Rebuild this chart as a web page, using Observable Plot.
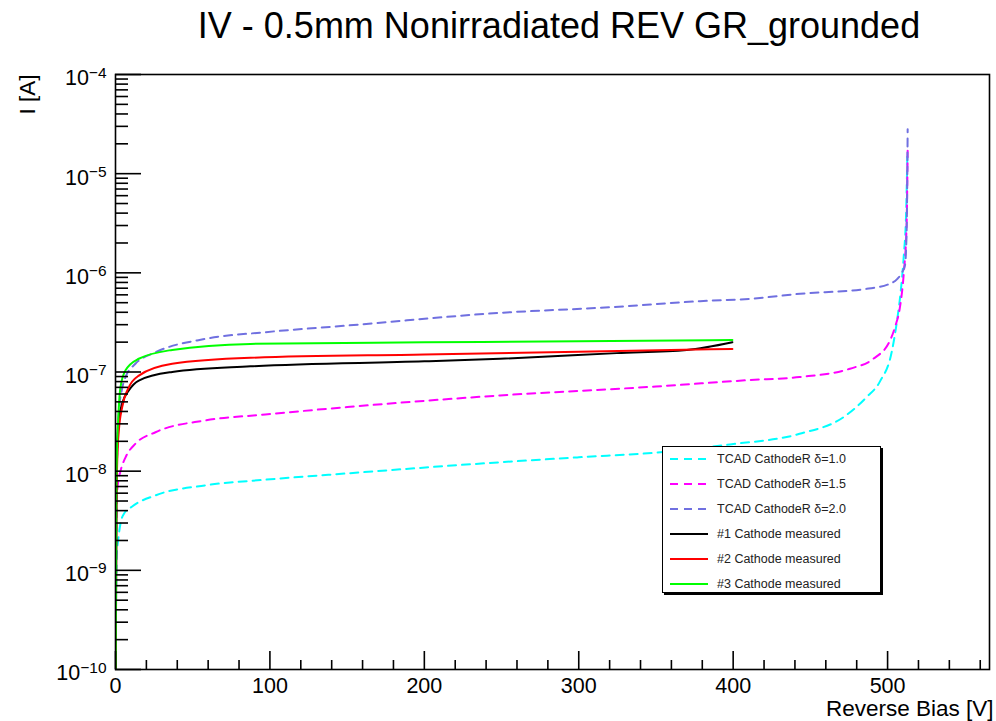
<!DOCTYPE html>
<html>
<head>
<meta charset="utf-8">
<script src="https://cdn.jsdelivr.net/npm/d3@7"></script>
<script src="https://cdn.jsdelivr.net/npm/@observablehq/plot@0.6"></script>
<style>
  body { margin: 0; background: #fff; font-family: "Liberation Sans", Arial, sans-serif; }
  #wrap { position: relative; width: 996px; height: 721px; overflow: hidden; background: #fff; }
  #title { height: 60px; box-sizing: border-box; padding-left: 122px; text-align: center;
           font-size: 36px; line-height: 52px; color: #000; white-space: nowrap; }
  #legend { position: absolute; left: 662px; top: 446px; width: 219px; height: 147px; box-sizing: border-box;
            border: 1.5px solid #000; box-shadow: 2px 2px 0 #000; background: #fff; font-size: 12.5px; color: #222; }
  .row { position: absolute; left: 7px; height: 20px; display: flex; align-items: center; white-space: nowrap; }
  .row svg { margin-right: 9px; }
</style>
</head>
<body>
<div id="wrap">
  <div id="title">IV - 0.5mm Nonirradiated REV GR_grounded</div>
  <div id="chart"></div>
  <div id="legend"></div>
</div>
<script>
// Reverse bias [V] and current [A] for each curve
const tcad10V = [0.1, 0.3, 0.9, 1.7, 3.2, 5.4, 10.8, 25.9, 58.3, 97, 150, 249, 300, 354.7, 398, 443, 471.4, 486.5, 495, 502.7, 506, 508.5, 510.5, 512, 512.8];
const tcad10I = [5e-11, 4e-10, 1.48e-9, 2.0e-9, 2.95e-9, 3.7e-9, 4.4e-9, 5.7e-9, 7.2e-9, 8.2e-9, 9.5e-9, 1.23e-8, 1.38e-8, 1.56e-8, 1.86e-8, 2.38e-8, 3.5e-8, 5.6e-8, 8e-8, 1.6e-7, 3.2e-7, 6.5e-7, 1.5e-6, 4e-6, 1.5e-5];

const tcad15V = [0.1, 0.5, 1.2, 2, 3.2, 6.5, 12.9, 25.9, 58.3, 97, 150, 249, 350, 411, 443, 475.7, 490.8, 501.6, 505, 508, 510.5, 512.3, 513];
const tcad15I = [5e-11, 2.5e-9, 6.5e-9, 8.2e-9, 1.0e-8, 1.38e-8, 1.89e-8, 2.47e-8, 3.25e-8, 3.73e-8, 4.43e-8, 5.8e-8, 7.14e-8, 8.3e-8, 8.9e-8, 1.08e-7, 1.36e-7, 2.08e-7, 2.9e-7, 4.5e-7, 1.0e-6, 3e-6, 1.7e-5];

const tcad20V = [0.1, 0.6, 1.2, 2.5, 4, 6.5, 12.9, 25.9, 58.3, 97, 150, 249, 320, 378.6, 411, 443.4, 486.5, 500, 506, 509.2, 511.3, 512.4, 513.0];
const tcad20I = [5e-11, 5e-9, 1.8e-8, 4.5e-8, 6.5e-8, 8.9e-8, 1.21e-7, 1.58e-7, 2.16e-7, 2.52e-7, 2.94e-7, 3.95e-7, 4.5e-7, 5.18e-7, 5.47e-7, 6.15e-7, 6.9e-7, 7.6e-7, 8.6e-7, 1.0e-6, 1.2e-6, 3e-6, 2.8e-5];

const meas1V = [0.1, 0.6, 1.2, 2.2, 4.3, 8.6, 15.1, 36.7, 87.4, 200, 249, 324.7, 370, 399.5];
const meas1I = [5e-11, 5e-9, 1.8e-8, 3.2e-8, 4.8e-8, 6.5e-8, 8.2e-8, 1.0e-7, 1.14e-7, 1.28e-7, 1.36e-7, 1.55e-7, 1.67e-7, 2.0e-7];

const meas2V = [0.1, 0.6, 1.2, 2.2, 4.3, 8.6, 15.1, 36.7, 87.4, 200, 300, 399.5];
const meas2I = [5e-11, 4e-9, 1.4e-8, 2.6e-8, 4.4e-8, 7.0e-8, 9.2e-8, 1.21e-7, 1.39e-7, 1.50e-7, 1.60e-7, 1.71e-7];

const meas3V = [0.1, 0.5, 0.9, 1.7, 3.2, 6.5, 15.1, 36.7, 87.4, 200, 300, 399.5];
const meas3I = [5e-11, 5e-9, 1.5e-8, 3.2e-8, 7.0e-8, 1.04e-7, 1.36e-7, 1.67e-7, 1.92e-7, 1.99e-7, 2.04e-7, 2.1e-7];

const seriesNames = ["TCAD CathodeR \u03b4=1.0", "TCAD CathodeR \u03b4=1.5", "TCAD CathodeR \u03b4=2.0",
                     "#1 Cathode measured", "#2 Cathode measured", "#3 Cathode measured"];
const seriesColors = ["#00ffff", "#ff00ff", "#7070e0", "#000000", "#ff0000", "#00ff00"];
const seriesDashed = [true, true, true, false, false, false];

// Axis ticks
const xMajorTicks = [0, 100, 200, 300, 400, 500];
const xMinorTicks = [20, 40, 60, 80, 120, 140, 160, 180, 220, 240, 260, 280, 320, 340, 360, 380, 420, 440, 460, 480, 520, 540, 560];
const yMajorTicks = [1e-10, 1e-9, 1e-8, 1e-7, 1e-6, 1e-5, 1e-4];
const yMinorFactors = [2, 3, 4, 5, 6, 7, 8, 9];

const yMinorTicks = yMajorTicks.slice(0, -1).flatMap(d => yMinorFactors.map(f => f * d));
const toRows = (vs, is) => vs.map((v, k) => ({v, i: is[k]}));
const seriesData = [
  toRows(tcad10V, tcad10I), toRows(tcad15V, tcad15I), toRows(tcad20V, tcad20I),
  toRows(meas1V, meas1I), toRows(meas2V, meas2I), toRows(meas3V, meas3I)
];

const W = 996, H = 661, mL = 115, mR = 7, mT = 14, mB = 52;
const innerW = W - mL - mR, innerH = H - mT - mB;

const curveMarks = seriesData.map((data, k) => Plot.line(data, {
  x: "v", y: "i", stroke: seriesColors[k], strokeWidth: 2,
  strokeDasharray: seriesDashed[k] ? "8,6" : null,
  curve: "monotone-x", clip: true
}));

const chart = Plot.plot({
  width: W, height: H,
  marginLeft: mL, marginRight: mR, marginTop: mT, marginBottom: mB,
  style: {fontFamily: '"Liberation Sans", Arial, sans-serif', fontSize: "21.5px", color: "#000", background: "#fff", overflow: "visible"},
  x: {domain: [0, 566], label: null},
  y: {type: "log", domain: [1e-10, 1e-4], label: null},
  marks: [
    ...curveMarks,
    Plot.tickY(yMajorTicks, {y: d => d, insetRight: innerW - 26, stroke: "#000", strokeWidth: 1.6}),
    Plot.tickY(yMinorTicks, {y: d => d, insetRight: innerW - 13, stroke: "#000", strokeWidth: 1.6}),
    Plot.tickX(xMajorTicks, {x: d => d, insetTop: innerH - 18, stroke: "#000", strokeWidth: 1.6}),
    Plot.tickX(xMinorTicks, {x: d => d, insetTop: innerH - 9, stroke: "#000", strokeWidth: 1.6}),
    Plot.frame({stroke: "#000", strokeWidth: 1.6}),
    Plot.axisX({ticks: xMajorTicks, tickSize: 0, tickPadding: 8, tickFormat: d => String(d), label: null}),
    Plot.axisY({ticks: yMajorTicks, tickSize: 0, tickPadding: 9, dy: 4,
                tickFormat: d => "10^" + Math.round(Math.log10(d)), label: null}),
    Plot.text(["Reverse Bias [V]"], {text: d => d, frameAnchor: "bottom-right", dx: 4, dy: 39,
                textAnchor: "end", lineAnchor: "middle", fontSize: 22.5}),
    Plot.text(["I [A]"], {text: d => d, frameAnchor: "top-left", dx: -88, dy: 0, rotate: -90,
                textAnchor: "end", lineAnchor: "middle", fontSize: 22.5})
  ]
});

// Powers of ten as "10" with a raised exponent
d3.select(chart).selectAll('g[aria-label="y-axis tick label"] text').each(function () {
  const parts = this.textContent.split("^");
  if (parts.length !== 2) return;
  this.textContent = parts[0];
  d3.select(this).append("tspan")
    .attr("font-size", "0.72em")
    .attr("dy", "-0.5em")
    .text(parts[1].replace("-", "\u2212"));
});

document.getElementById("chart").appendChild(chart);

// Legend box
const legend = d3.select("#legend");
seriesNames.forEach((name, k) => {
  const row = legend.append("div").attr("class", "row").style("top", (2 + 25 * k) + "px");
  const sw = row.append("svg").attr("width", 38).attr("height", 6);
  sw.append("line").attr("x1", 0).attr("x2", 38).attr("y1", 3).attr("y2", 3)
    .attr("stroke", seriesColors[k]).attr("stroke-width", 2)
    .attr("stroke-dasharray", seriesDashed[k] ? "8,6" : null);
  row.append("span").text(name);
});
</script>
</body>
</html>
